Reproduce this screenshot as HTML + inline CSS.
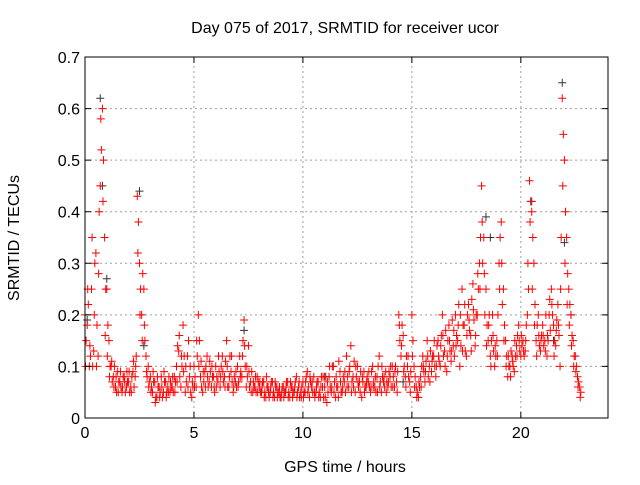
<!DOCTYPE html>
<html><head><meta charset="utf-8"><style>
body{margin:0;background:#fff;width:640px;height:480px;overflow:hidden}
svg text{font-family:"Liberation Sans",sans-serif;font-size:16px;fill:#000}
</style></head><body>
<svg id="chart" width="640" height="480" xmlns="http://www.w3.org/2000/svg">
<rect width="640" height="480" fill="#fff"/>
<g id="grid"></g>
<g id="marks"></g>
<g id="axes"></g>
<text x="345" y="33" text-anchor="middle">Day 075 of 2017, SRMTID for receiver ucor</text>
<text x="345" y="472" text-anchor="middle">GPS time / hours</text>
<text transform="translate(19,238) rotate(-90)" text-anchor="middle">SRMTID / TECUs</text>
</svg>
<script>
const xTicks=[0,5,10,15,20];
const yTicks=[0,0.1,0.2,0.3,0.4,0.5,0.6,0.7];
const yTickLabels=["0","0.1","0.2","0.3","0.4","0.5","0.6","0.7"];
const sampleStart=0, sampleStep=0.1;
const redA=[0.2,0.18,0.1,0.25,0.13,0.32,0.12,0.45,0.6,0.35,
0.25,0.15,0.1,0.08,0.06,0.09,0.07,0.05,0.08,0.06,
0.07,0.06,0.09,0.08,0.43,0.3,0.2,0.25,0.12,0.1,
0.08,0.05,0.07,0.04,0.06,0.08,0.05,0.07,0.06,0.05,
0.06,0.08,0.1,0.13,0.06,0.18,0.05,0.12,0.08,0.04,
0.1,0.06,0.2,0.08,0.05,0.09,0.12,0.07,0.06,0.08,
0.1,0.07,0.06,0.12,0.08,0.15,0.06,0.09,0.05,0.07,
0.1,0.12,0.08,0.19,0.06,0.14,0.07,0.05,0.06,0.08,
0.06,0.05,0.07,0.04,0.06,0.05,0.07,0.04,0.06,0.05,
0.04,0.06,0.05,0.07,0.04,0.06,0.05,0.08,0.06,0.05,
0.07,0.05,0.09,0.04,0.06,0.08,0.05,0.07,0.04,0.06,
0.06,0.03,0.08,0.05,0.1,0.04,0.06,0.09,0.05,0.07,
0.12,0.06,0.14,0.08,0.05,0.1,0.07,0.04,0.09,0.06,
0.07,0.05,0.1,0.06,0.08,0.12,0.05,0.07,0.09,0.06,
0.08,0.1,0.06,0.07,0.2,0.12,0.16,0.08,0.1,0.07,
0.2,0.1,0.06,0.04,0.08,0.12,0.07,0.15,0.1,0.09,
0.12,0.08,0.15,0.1,0.2,0.13,0.09,0.18,0.11,0.14,
0.2,0.15,0.1,0.25,0.18,0.12,0.22,0.16,0.26,0.14,
0.2,0.3,0.45,0.35,0.25,0.15,0.12,0.2,0.1,0.15,
0.3,0.38,0.25,0.15,0.08,0.1,0.12,0.09,0.14,0.18,
0.12,0.15,0.13,0.2,0.46,0.4,0.3,0.15,0.2,0.13,
0.18,0.15,0.12,0.2,0.25,0.18,0.14,0.22,0.1,0.62,
0.5,0.35,0.25,0.2,0.15,0.12,0.08,0.06];
const redB=[0.15,0.22,0.12,0.1,0.3,0.18,0.4,0.52,0.5,0.25,
0.18,0.1,0.07,0.1,0.05,0.07,0.06,0.08,0.05,0.07,
0.05,0.08,0.06,0.12,0.38,0.25,0.28,0.15,0.08,0.07,
0.06,0.07,0.04,0.06,0.05,0.04,0.07,0.05,0.08,0.06,
0.05,0.07,0.14,0.08,0.1,0.12,0.07,0.15,0.05,0.06,
0.08,0.12,0.15,0.06,0.07,0.1,0.06,0.09,0.08,0.05,
0.08,0.09,0.1,0.07,0.11,0.06,0.12,0.07,0.08,0.06,
0.07,0.09,0.15,0.1,0.08,0.06,0.09,0.06,0.05,0.07,
0.05,0.07,0.05,0.06,0.04,0.07,0.05,0.06,0.05,0.04,
0.06,0.05,0.07,0.05,0.06,0.05,0.07,0.05,0.04,0.06,
0.05,0.08,0.06,0.07,0.05,0.04,0.07,0.05,0.08,0.04,
0.08,0.05,0.06,0.1,0.07,0.06,0.11,0.05,0.08,0.05,
0.08,0.1,0.07,0.11,0.08,0.06,0.09,0.07,0.06,0.08,
0.06,0.09,0.07,0.05,0.1,0.07,0.08,0.06,0.07,0.09,
0.06,0.08,0.1,0.09,0.15,0.18,0.1,0.12,0.08,0.09,
0.15,0.08,0.05,0.06,0.1,0.09,0.11,0.08,0.13,0.12,
0.1,0.14,0.11,0.16,0.12,0.17,0.15,0.13,0.19,0.12,
0.16,0.22,0.14,0.18,0.13,0.2,0.17,0.23,0.19,0.2,
0.25,0.35,0.3,0.2,0.18,0.2,0.15,0.13,0.12,0.2,
0.35,0.22,0.18,0.12,0.1,0.13,0.1,0.12,0.16,0.13,
0.14,0.12,0.18,0.25,0.42,0.35,0.22,0.18,0.14,0.16,
0.14,0.2,0.15,0.17,0.2,0.15,0.19,0.16,0.35,0.55,
0.4,0.28,0.22,0.16,0.12,0.1,0.07,0.05];
const redC=[0.1,0.25,0.14,0.35,0.2,0.1,0.28,0.58,0.42,0.16,
0.12,0.08,0.11,0.06,0.08,0.05,0.09,0.06,0.07,0.09,
0.09,0.05,0.11,0.1,0.32,0.2,0.15,0.18,0.09,0.06,
0.05,0.09,0.03,0.08,0.04,0.06,0.09,0.04,0.05,0.07,
0.08,0.05,0.07,0.16,0.12,0.09,0.1,0.06,0.1,0.07,
0.06,0.15,0.1,0.11,0.09,0.06,0.08,0.11,0.1,0.06,
0.06,0.12,0.08,0.09,0.06,0.1,0.08,0.12,0.06,0.09,
0.06,0.08,0.12,0.14,0.1,0.09,0.05,0.07,0.08,0.05,
0.07,0.06,0.04,0.08,0.05,0.06,0.04,0.07,0.04,0.06,
0.05,0.04,0.06,0.04,0.07,0.04,0.06,0.04,0.07,0.04,
0.04,0.07,0.05,0.08,0.07,0.05,0.06,0.04,0.06,0.08,
0.04,0.07,0.1,0.06,0.05,0.08,0.04,0.07,0.06,0.09,
0.06,0.09,0.05,0.06,0.1,0.07,0.05,0.08,0.05,0.07,
0.09,0.06,0.06,0.08,0.05,0.06,0.1,0.08,0.05,0.07,
0.1,0.06,0.09,0.05,0.18,0.14,0.09,0.06,0.12,0.05,
0.12,0.06,0.04,0.07,0.06,0.1,0.09,0.12,0.07,0.11,
0.15,0.1,0.12,0.14,0.16,0.1,0.12,0.15,0.13,0.17,
0.14,0.18,0.2,0.13,0.22,0.16,0.19,0.13,0.21,0.16,
0.28,0.25,0.38,0.28,0.14,0.18,0.1,0.16,0.14,0.12,
0.25,0.3,0.15,0.1,0.12,0.08,0.11,0.15,0.12,0.15,
0.16,0.13,0.15,0.3,0.38,0.25,0.18,0.12,0.16,0.15,
0.16,0.13,0.16,0.23,0.22,0.12,0.17,0.18,0.25,0.45,
0.3,0.22,0.18,0.14,0.1,0.09,0.06,0.04];
const blackT=[0.1,0.7,0.8,1.0,2.5,2.7,7.3,11.0,14.6,18.4,18.6,20.5,21.5,21.9,22.0,22.3];
const blackV=[0.19,0.62,0.45,0.27,0.44,0.14,0.17,0.08,0.07,0.39,0.35,0.42,0.15,0.65,0.34,0.2];
const ns="http://www.w3.org/2000/svg";
const X0=85,X1=608,Y0=418,Y1=57;
const xs=t=>X0+t/24*(X1-X0);
const ys=v=>Y0-v/0.7*(Y0-Y1);
function mk(tag,attrs,parent){const e=document.createElementNS(ns,tag);for(const k in attrs)e.setAttribute(k,attrs[k]);parent.appendChild(e);return e;}
const grid=document.getElementById('grid'),axes=document.getElementById('axes'),marks=document.getElementById('marks');
xTicks.forEach(t=>{const x=xs(t);
 if(t>0){const g=mk('line',{x1:x,x2:x,y1:Y0,y2:Y1,stroke:'#a0a0a0','stroke-dasharray':'2,3'},grid);}
 const tk=mk('path',{d:`M${x},${Y0}v-6M${x},${Y1}v6`,stroke:'#000'},axes);
 
 const l=mk('text',{x:x,y:Y0+20,'text-anchor':'middle'},axes);l.textContent=t;
 });
yTicks.forEach((v,i)=>{const y=ys(v);
 if(v>0&&v<0.7){const g=mk('line',{x1:X0,x2:X1,y1:y,y2:y,stroke:'#a0a0a0','stroke-dasharray':'2,3'},grid);}
 const tk=mk('path',{d:`M${X0},${y}h6M${X1},${y}h-6`,stroke:'#000'},axes);
 
 const l=mk('text',{x:X0-5,y:y+6,'text-anchor':'end'},axes);l.textContent=yTickLabels[i];
 });
const frame=mk('rect',{x:X0,y:Y1,width:X1-X0,height:Y0-Y1,fill:'none',stroke:'#000'},axes);

function plus(t,v,col){const x=xs(t),y=ys(v);
 return mk('path',{d:`M${x-4},${y}h8M${x},${y-4}v8`,stroke:col,'stroke-width':1},marks);}
blackT.forEach((t,i)=>{const p=plus(t,blackV[i],'#333');
 });
redA.forEach((v,i)=>{const p=plus(sampleStart+i*sampleStep,v,'#f00');
 });
redB.forEach((v,i)=>{const p=plus(sampleStart+i*sampleStep+0.05,v,'#f00');
 });
redC.forEach((v,i)=>{const p=plus(sampleStart+i*sampleStep+0.025,v,'#f00');
 });
</script>
</body></html>
